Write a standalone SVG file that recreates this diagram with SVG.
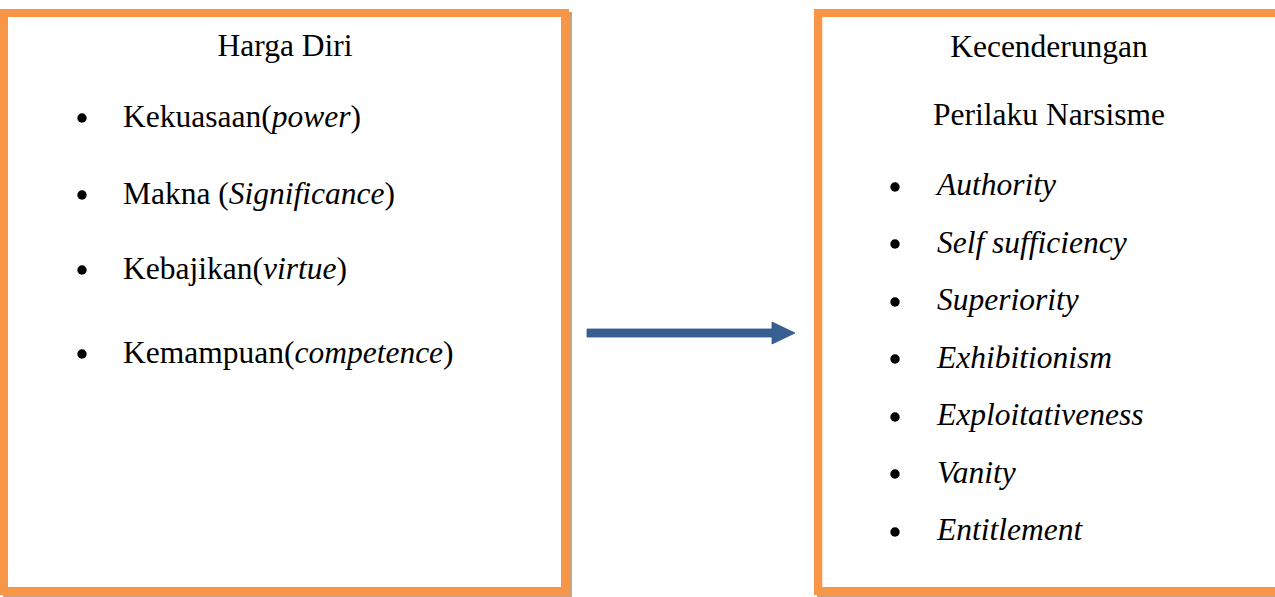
<svg xmlns="http://www.w3.org/2000/svg" width="1275" height="597" viewBox="0 0 1275 597">
<style>
.box{fill:#ffffff;stroke:#f79646;stroke-width:8}
.shadow{fill:none;stroke:#c9a27f;stroke-width:8}
text{font-family:"Liberation Serif","Times New Roman",serif;font-size:31.5px;fill:#000}
.it{font-style:italic}
.c{text-anchor:middle}
.dot{fill:#000}
</style>
<rect width="1275" height="597" fill="#ffffff"/>
<g id="node-harga-diri">
<rect class="shadow" x="7" y="16" width="561" height="578"/>
<rect class="box" x="4" y="13" width="561" height="578"/>
<text class="c" x="285" y="56">Harga Diri</text>
<circle class="dot" cx="82" cy="118" r="4.7"/>
<text x="123" y="127">Kekuasaan(<tspan class="it">power</tspan>)</text>
<circle class="dot" cx="82" cy="195" r="4.7"/>
<text x="123" y="204">Makna (<tspan class="it">Significance</tspan>)</text>
<circle class="dot" cx="82" cy="270" r="4.7"/>
<text x="123" y="279">Kebajikan(<tspan class="it">virtue</tspan>)</text>
<circle class="dot" cx="82" cy="354" r="4.7"/>
<text x="123" y="363">Kemampuan(<tspan class="it">competence</tspan>)</text>
</g>
<g id="node-narsisme">
<rect class="shadow" x="821" y="16" width="480" height="578"/>
<rect class="box" x="818" y="13" width="480" height="578"/>
<line x1="822.5" y1="17" x2="822.5" y2="587" stroke="#fde4cf" stroke-width="1"/>
<text class="c" x="1049" y="57">Kecenderungan</text>
<text class="c" x="1049" y="125">Perilaku Narsisme</text>
<circle class="dot" cx="895" cy="187" r="4.7"/>
<text class="it" x="937" y="195">Authority</text>
<circle class="dot" cx="895" cy="244" r="4.7"/>
<text class="it" x="937" y="252.5">Self sufficiency</text>
<circle class="dot" cx="895" cy="302" r="4.7"/>
<text class="it" x="937" y="310">Superiority</text>
<circle class="dot" cx="895" cy="359" r="4.7"/>
<text class="it" x="937" y="367.5">Exhibitionism</text>
<circle class="dot" cx="895" cy="417" r="4.7"/>
<text class="it" x="937" y="425">Exploitativeness</text>
<circle class="dot" cx="895" cy="474" r="4.7"/>
<text class="it" x="937" y="482.5">Vanity</text>
<circle class="dot" cx="895" cy="532" r="4.7"/>
<text class="it" x="937" y="540">Entitlement</text>
</g>
<g id="connectors">
<polygon points="587,329 772,329 772,322 795,333 772,344 772,337 587,337" fill="#375f92" stroke="#30548a" stroke-width="0.8"/>
</g>
</svg>
